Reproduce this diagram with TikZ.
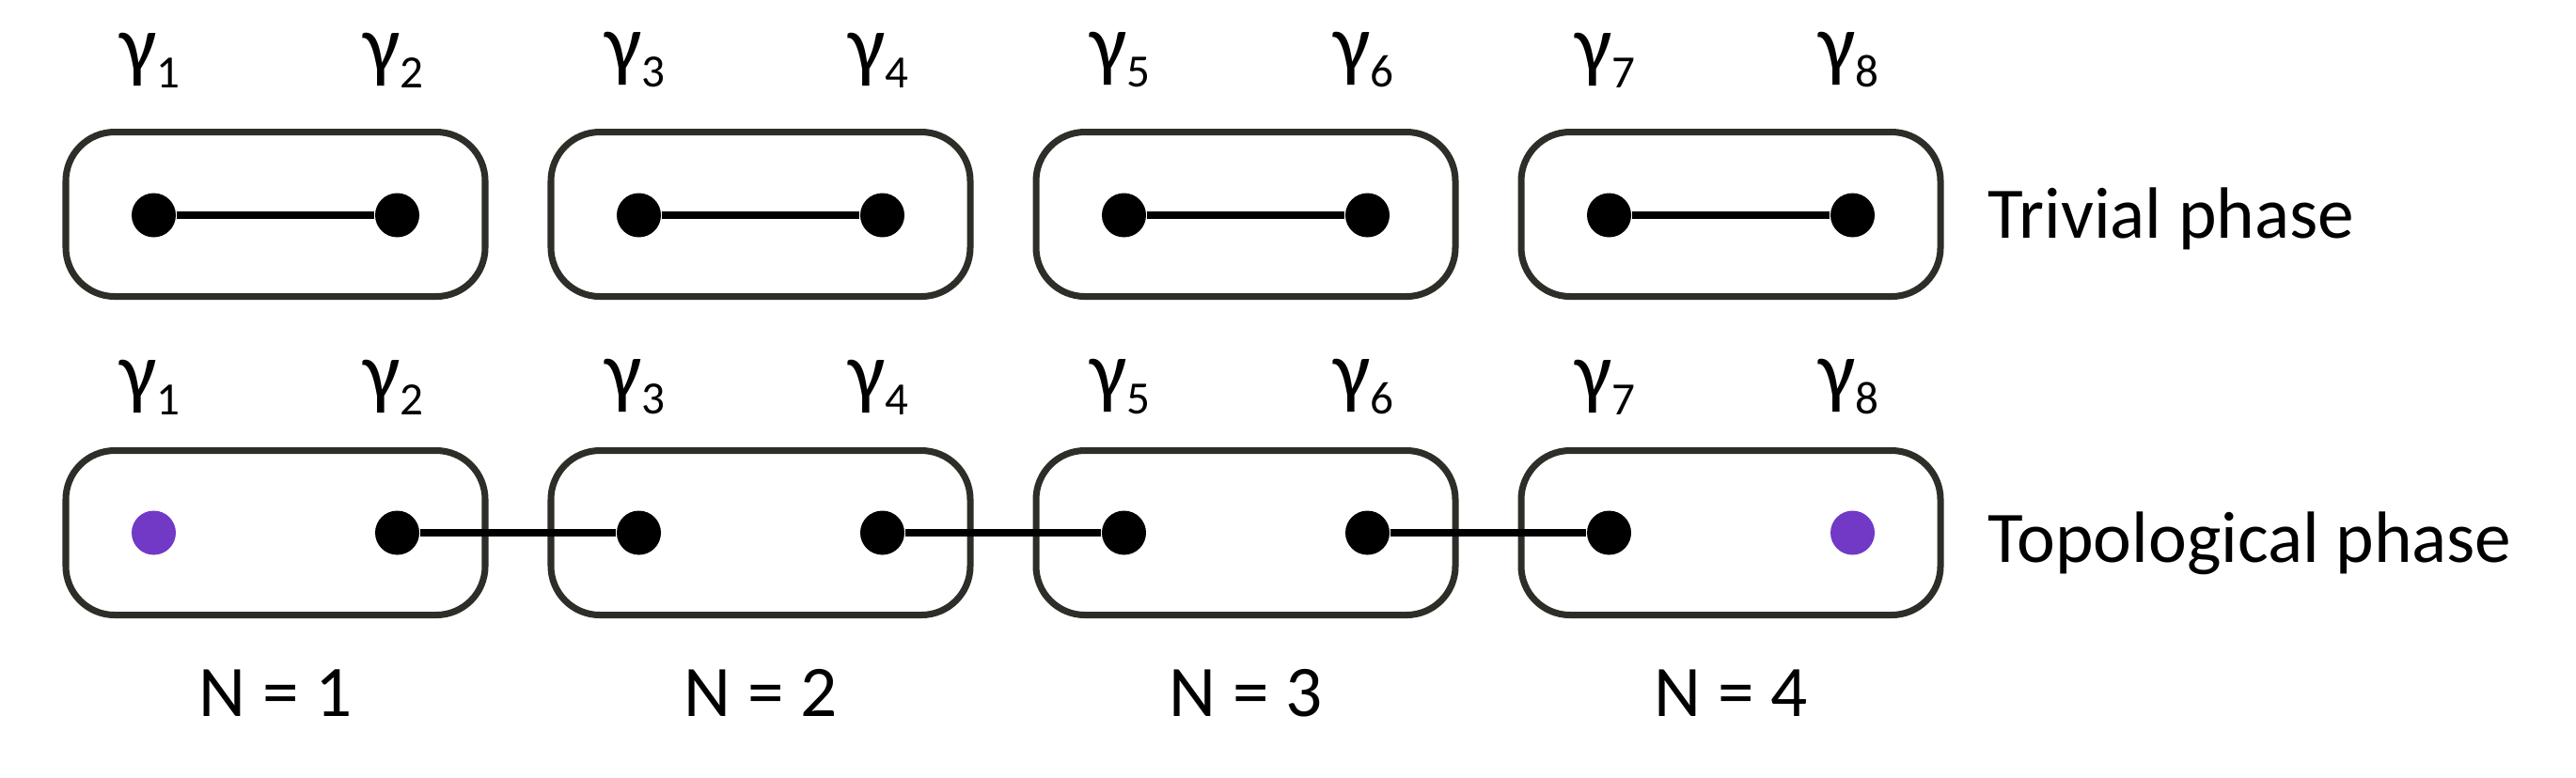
\documentclass[tikz,border=0pt]{standalone}
\usepackage{fontspec}
\setmainfont{Carlito}
\usepackage{tikz}
\definecolor{boxgray}{RGB}{46,45,39}
\definecolor{endpurple}{RGB}{113,57,198}
% Majorana label: gamma with a lowered index
\newcommand{\majo}[1]{{\fontsize{25}{26}\selectfont γ}\raisebox{-4.6pt}{\fontsize{14}{14}\selectfont #1}}

\tikzset{
    pair/.style={draw=boxgray, line width=2pt, rounded corners=0.52cm,
        minimum width=4.46cm, minimum height=1.75cm, inner sep=0pt},
    site/.style={circle, fill=black, inner sep=0pt, minimum size=0.47cm},
    end site/.style={site, fill=endpurple},
    bond/.style={line width=2.1pt},
    lbl/.style={font=\fontsize{22}{26}\selectfont, inner sep=0pt}
}

\begin{document}
\begin{tikzpicture}
    \useasboundingbox (0,0) rectangle (27.4,-8.27);
    % boxes and cell numbers
    \foreach \i/\cx in {1/2.93, 2/8.09, 3/13.25, 4/18.41} {
        \node[pair] (tb\i) at (\cx,-2.28) {};
        \node[pair] (pb\i) at (\cx,-5.67) {};
        \node[lbl, anchor=base] (n\i) at (\cx,-7.62) {N = \i};
    }
    % sites with their labels
    \foreach \j/\x/\s in {1/1.635/end site, 2/4.225/site, 3/6.795/site, 4/9.385/site,
                          5/11.955/site, 6/14.545/site, 7/17.115/site, 8/19.705/end site} {
        \node[site] (t\j) at (\x,-2.29) {};
        \node[\s] (p\j) at (\x,-5.67) {};
        \node[lbl, anchor=south] (tl\j) at (\x-0.04,-0.94) {\majo{\j}};
        \node[lbl, anchor=south] (pl\j) at (\x-0.04,-4.42) {\majo{\j}};
    }
    % pairings
    \foreach \a/\b in {1/2, 3/4, 5/6, 7/8}
        \draw[bond] (t\a) -- (t\b);
    \foreach \a/\b in {2/3, 4/5, 6/7}
        \draw[bond] (p\a) -- (p\b);
    \node[lbl, anchor=base west] (triv) at (21.14,-2.53) {Trivial phase};
    \node[lbl, anchor=base west] (topo) at (21.14,-5.98) {Topological phase};
\end{tikzpicture}
\end{document}
